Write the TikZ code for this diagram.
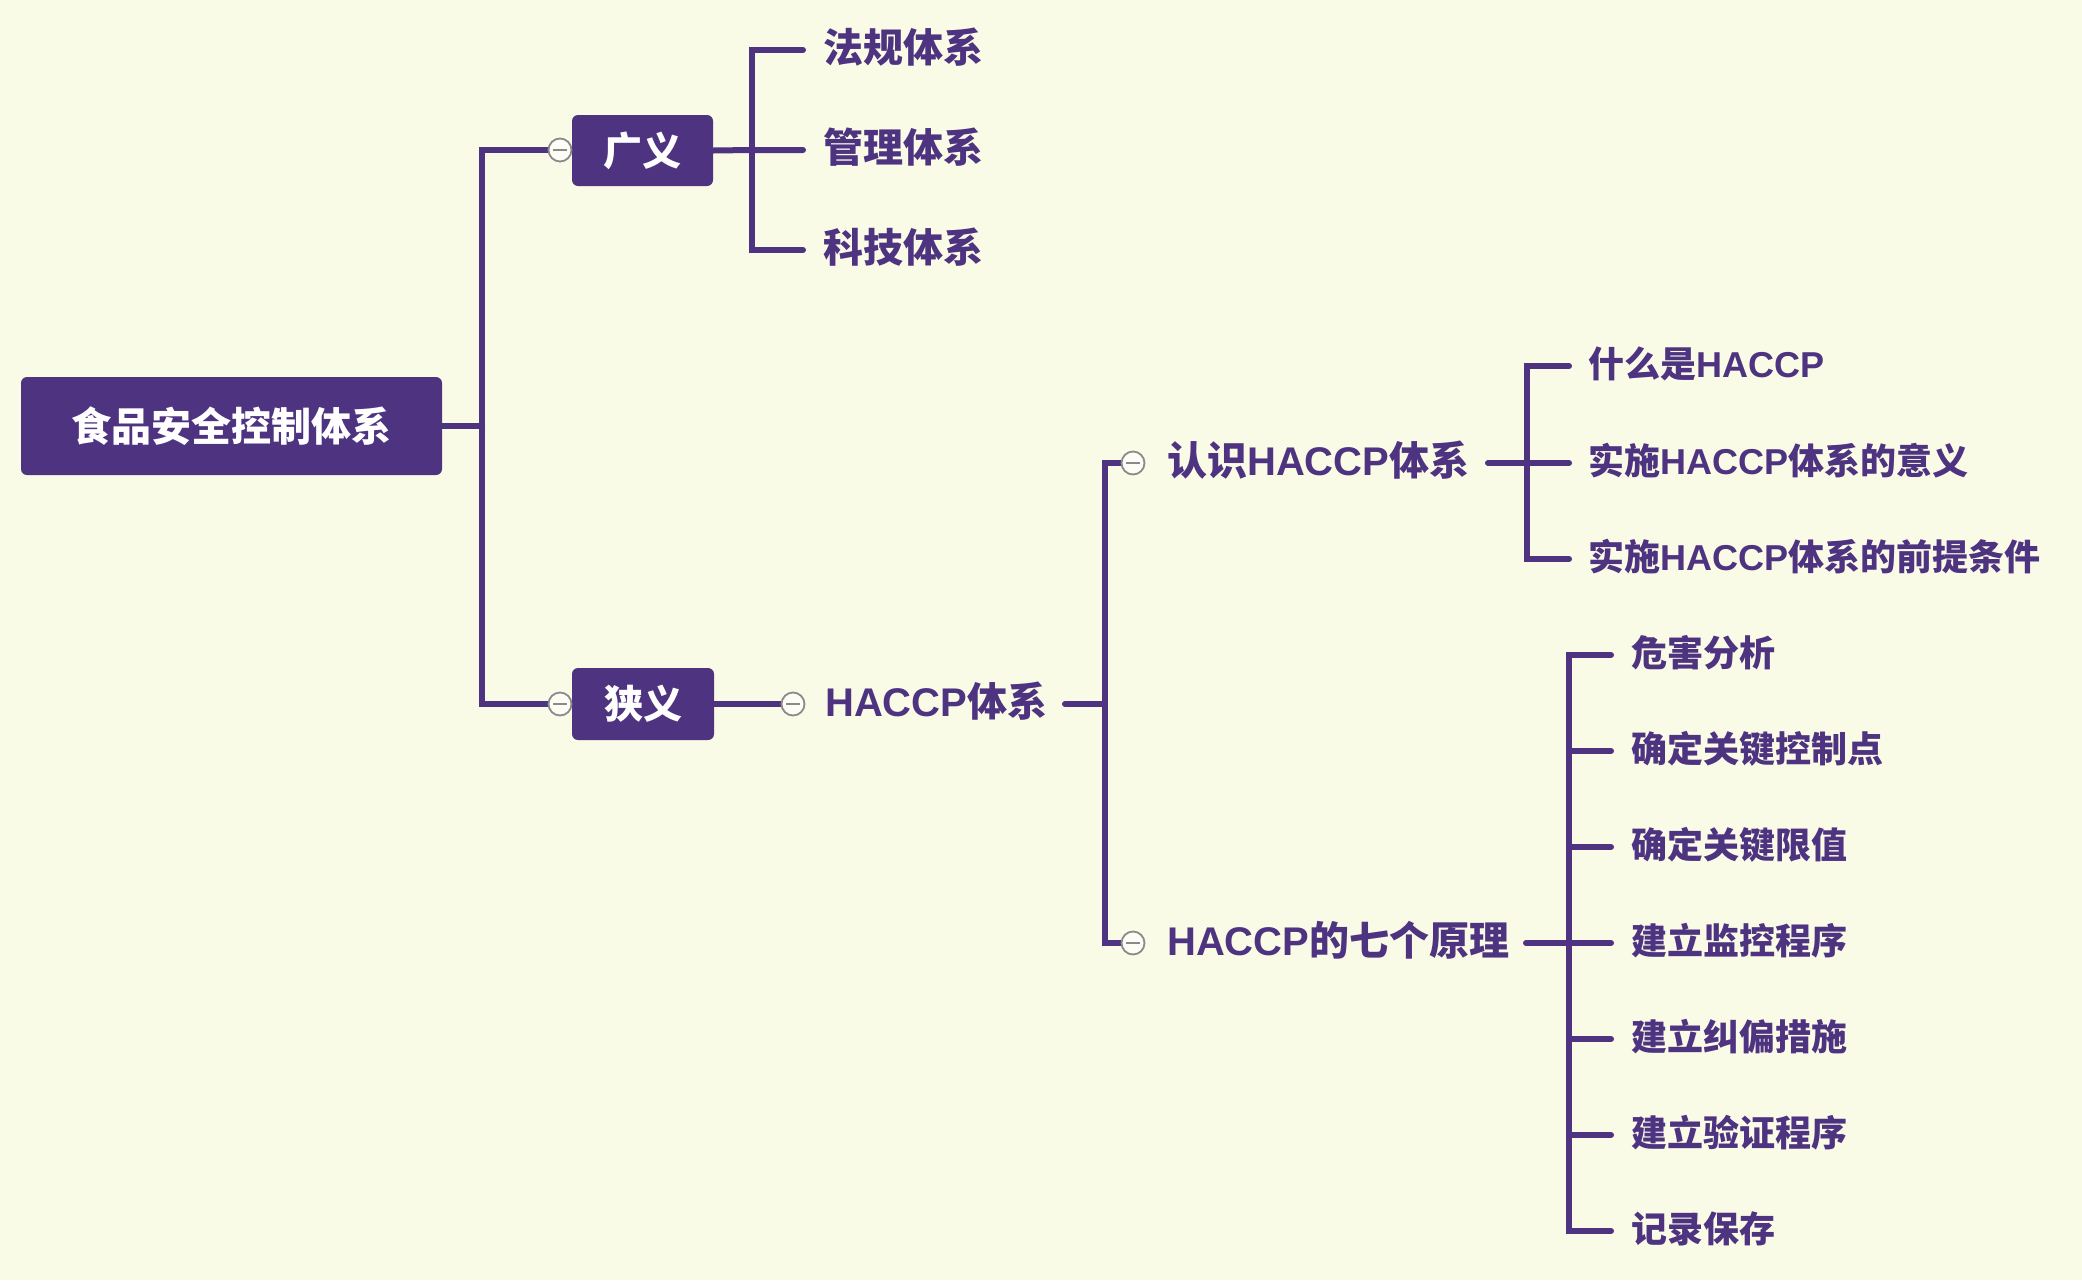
\documentclass[tikz,border=0pt]{standalone}
\usepackage{fontspec}
\newfontfamily\cjk{Noto Sans CJK SC}
\newfontfamily\lat{Liberation Sans}
\definecolor{pp}{HTML}{4E3380}
\definecolor{bg}{HTML}{FAFBE7}
\definecolor{cg}{HTML}{8A8A8A}
\newcommand\HC{{\lat HACCP}}
\begin{document}
\begin{tikzpicture}[x=1pt,y=-1pt,
  ln/.style={draw=pp, line width=6pt, line cap=round, line join=miter},
  box/.style={fill=pp, rounded corners=6pt, text=white, inner sep=0pt,
    font=\cjk\bfseries\fontsize{39}{39}\selectfont},
  midtxt/.style={anchor=west, inner sep=0pt, yshift=3pt, text=pp, font=\cjk\bfseries\fontsize{40}{40}\selectfont},
  lf/.style={anchor=west, inner sep=0pt, yshift=3pt, text=pp, font=\cjk\bfseries\fontsize{40}{40}\selectfont},
  leaf/.style={anchor=west, inner sep=0pt, yshift=2pt, text=pp, font=\cjk\bfseries\fontsize{36}{36}\selectfont},
  tog/.style={circle, draw=cg, fill=bg!40!white, line width=1.8pt, minimum size=23pt, inner sep=0pt,
    path picture={\draw[cg, line width=1.8pt] ([xshift=-7pt]path picture bounding box.center) -- ([xshift=7pt]path picture bounding box.center);}}
]
\path[fill=bg] (0,0) rectangle (2082,1280);
\useasboundingbox (0,0) rectangle (2082,1280);

% nodes
\node[box, minimum width=421pt, minimum height=98pt, font=\cjk\bfseries\fontsize{40}{40}\selectfont] (root) at (231.5,426) {食品安全控制体系};
\node[box, minimum width=141pt, minimum height=71pt] (gy) at (642.5,150.5) {广义};
\node[box, minimum width=142pt, minimum height=72pt] (xy) at (643,704) {狭义};

\node[lf] (l1) at (823,50) {法规体系};
\node[lf] (l2) at (823,150) {管理体系};
\node[lf] (l3) at (823,250) {科技体系};

\node[midtxt] (hs) at (825,704) {\HC 体系};
\node[midtxt] (rs) at (1167,463) {认识\HC 体系};
\node[midtxt] (qy) at (1167,943) {\HC 的七个原理};

\node[leaf] (r1) at (1588,366) {什么是\HC};
\node[leaf] (r2) at (1588,463) {实施\HC 体系的意义};
\node[leaf] (r3) at (1588,559) {实施\HC 体系的前提条件};

\node[leaf] (p1) at (1631,655) {危害分析};
\node[leaf] (p2) at (1631,751) {确定关键控制点};
\node[leaf] (p3) at (1631,847) {确定关键限值};
\node[leaf] (p4) at (1631,943) {建立监控程序};
\node[leaf] (p5) at (1631,1039) {建立纠偏措施};
\node[leaf] (p6) at (1631,1135) {建立验证程序};
\node[leaf] (p7) at (1631,1231) {记录保存};

% toggle positions
\coordinate (c1) at (560,150);
\coordinate (c2) at (560,704);
\coordinate (c3) at (793,704);
\coordinate (c4) at (1133,463);
\coordinate (c5) at (1133,943);

% bus coordinates
\coordinate (b1t) at (482,150);
\coordinate (b1m) at (482,426);
\coordinate (b1b) at (482,704);

\coordinate (b2t) at (752,50);
\coordinate (b2m) at (752,150);
\coordinate (b2b) at (752,250);
\coordinate (e1) at (803,50);
\coordinate (e2) at (803,150);
\coordinate (e3) at (803,250);

\coordinate (hs0) at (1065,704);
\coordinate (b3t) at (1105,463);
\coordinate (b3m) at (1105,704);
\coordinate (b3b) at (1105,943);

\coordinate (rs0) at (1488,463);
\coordinate (b4t) at (1527,366);
\coordinate (b4m) at (1527,463);
\coordinate (b4b) at (1527,559);
\coordinate (f1) at (1569,366);
\coordinate (f2) at (1569,463);
\coordinate (f3) at (1569,559);

\coordinate (qy0) at (1526,943);
\coordinate (b5t) at (1569,655);
\coordinate (b5m) at (1569,943);
\coordinate (b5b) at (1569,1231);
\foreach \i/\y in {1/655,2/751,3/847,4/943,5/1039,6/1135,7/1231}{
  \coordinate (g\i) at (1611,\y);
  \coordinate (k\i) at (1569,\y);
}

% connectors
\draw[ln] (root.east) -- (b1m);
\draw[ln] (c1) -- (b1t) -- (b1b) -- (c2);
\draw[ln] (gy.east) -- (b2m) -- (e2);
\draw[ln] (e1) -- (b2t) -- (b2b) -- (e3);
\draw[ln] (xy.east) -- (c3);
\draw[ln] (hs0) -- (b3m);
\draw[ln] (c4) -- (b3t) -- (b3b) -- (c5);
\draw[ln] (rs0) -- (b4m) -- (f2);
\draw[ln] (f1) -- (b4t) -- (b4b) -- (f3);
\draw[ln] (qy0) -- (b5m);
\draw[ln] (g1) -- (b5t) -- (b5b) -- (g7);
\foreach \i in {2,...,6}{ \draw[ln] (k\i) -- (g\i); }

% toggles on top of the connectors
\node[tog] (t1) at (c1) {};
\node[tog] (t2) at (c2) {};
\node[tog] (t3) at (c3) {};
\node[tog] (t4) at (c4) {};
\node[tog] (t5) at (c5) {};
\end{tikzpicture}
\end{document}
